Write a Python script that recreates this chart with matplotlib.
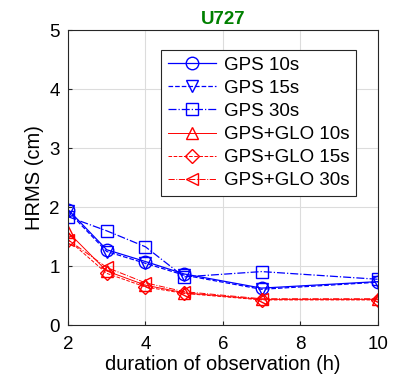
import matplotlib
matplotlib.use("Agg")
import matplotlib.pyplot as plt

plt.rcParams['font.family'] = ['Liberation Sans', 'DejaVu Sans']

hours = [2, 3, 4, 5, 7, 10]
gps_10 = [1.96, 1.28, 1.08, 0.87, 0.63, 0.74]
gps_15 = [1.93, 1.25, 1.05, 0.85, 0.61, 0.73]
gps_30 = [1.84, 1.60, 1.33, 0.82, 0.91, 0.78]
glo_10 = [1.58, 0.92, 0.68, 0.55, 0.44, 0.44]
glo_15 = [1.45, 0.88, 0.65, 0.54, 0.43, 0.43]
glo_30 = [1.45, 0.98, 0.72, 0.57, 0.45, 0.45]

fig = plt.figure(figsize=(3.93, 3.85), dpi=100)
ax = fig.add_axes([0.173, 0.155, 0.788, 0.767])

blue = (0, 0, 1)
red = (1, 0, 0)
ms = 9
ax.plot(hours, gps_10, '-', color=blue, marker='o', mfc='none', ms=ms, lw=0.9, label='GPS 10s')
ax.plot(hours, gps_15, '--', color=blue, marker='v', mfc='none', ms=ms, lw=0.9, label='GPS 15s')
ax.plot(hours, gps_30, '-.', color=blue, marker='s', mfc='none', ms=ms, lw=0.9, label='GPS 30s')
ax.plot(hours, glo_10, '-', color=red, marker='^', mfc='none', ms=ms, lw=0.7, label='GPS+GLO 10s')
ax.plot(hours, glo_15, '--', color=red, marker='D', mfc='none', ms=7, lw=0.7, label='GPS+GLO 15s')
ax.plot(hours, glo_30, '-.', color=red, marker='<', mfc='none', ms=ms, lw=0.7, label='GPS+GLO 30s')

ax.set_xlim(2, 10)
ax.set_ylim(0, 5)
ax.set_xticks([2, 4, 6, 8, 10])
ax.set_yticks([0, 1, 2, 3, 4, 5])
ax.grid(True, color='#dcdcdc', lw=0.8)
ax.set_axisbelow(True)
for s in ax.spines.values():
    s.set_color('#262626')
    s.set_linewidth(0.8)
ax.tick_params(labelsize=13.5, direction='in', length=3, color='#262626')
ax.tick_params(axis='x', pad=8)
ax.tick_params(axis='y', pad=6)

ax.set_xlabel('duration of observation (h)', fontsize=14.5, labelpad=1)
ax.set_ylabel('HRMS (cm)', fontsize=14.5, labelpad=4)
ax.set_title('U727', fontsize=13.5, fontweight='bold', color='#008000', pad=4)

leg = ax.legend(loc='upper right', bbox_to_anchor=(0.93, 0.932), fontsize=13.5,
                fancybox=False, framealpha=1, edgecolor='#262626',
                handlelength=2.6, borderpad=0.35, labelspacing=0.32, handletextpad=0.4,
                borderaxespad=0)
leg.get_frame().set_linewidth(0.8)

fig.savefig('out.png', dpi=100)
